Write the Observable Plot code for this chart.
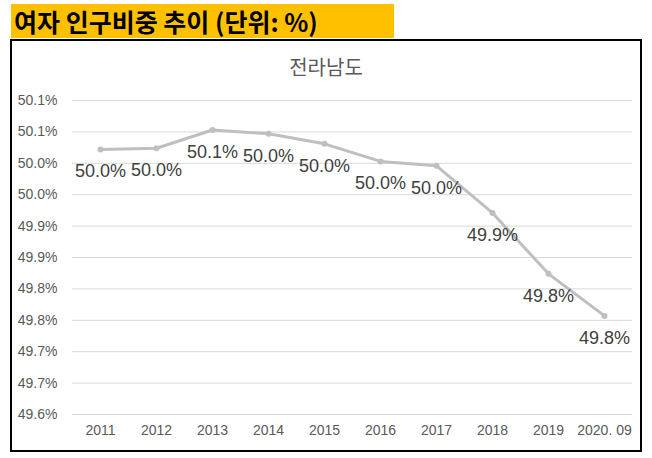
<!DOCTYPE html>
<html>
<head>
<meta charset="utf-8">
<script src="https://cdn.jsdelivr.net/npm/d3@7"></script>
<script src="https://cdn.jsdelivr.net/npm/@observablehq/plot@0.6"></script>
<style>
  html, body { margin: 0; padding: 0; background: #fff; }
  #wrap { position: relative; width: 652px; height: 458px; overflow: hidden; font-family: "Liberation Sans", Arial, sans-serif; }
  #header { position: absolute; left: 11px; top: 4px; width: 383px; height: 34px; background: #FFC000;
    font-family: "Noto Sans CJK KR", sans-serif; font-weight: bold; font-size: 25px; line-height: 34px;
    color: #000; padding-left: 3px; box-sizing: border-box; white-space: nowrap; }
  #box { position: absolute; left: 10px; top: 39px; width: 632px; height: 413px; border: 2px solid #000; box-sizing: border-box; }
  #ctitle { position: absolute; left: 0; width: 652px; top: 53px; text-align: center;
    font-family: "Noto Sans CJK KR", sans-serif; font-size: 20px; color: #595959; line-height: 28px; }
  #plot { position: absolute; left: 0; top: 0; }
</style>
</head>
<body>
<div id="wrap">
  <div id="header">여자 인구비중 추이 (단위: %)</div>
  <div id="box"></div>
  <div id="ctitle">전라남도</div>
  <div id="plot"></div>
</div>
<script>
const categories = ["2011", "2012", "2013", "2014", "2015", "2016", "2017", "2018", "2019", "2020. 09"];
const values = [50.022, 50.024, 50.053, 50.047, 50.031, 50.003, 49.996, 49.921, 49.824, 49.757];
const yTicks = [49.6, 49.65, 49.7, 49.75, 49.8, 49.85, 49.9, 49.95, 50.0, 50.05, 50.1];
const yTickLabels = ["49.6%", "49.7%", "49.7%", "49.8%", "49.8%", "49.9%", "49.9%", "50.0%", "50.0%", "50.1%", "50.1%"];

const data = categories.map((c, i) => ({year: c, value: values[i]}));

const chart = Plot.plot({
  width: 652,
  height: 458,
  marginLeft: 72,
  marginRight: 20,
  marginTop: 100,
  marginBottom: 44,
  style: { fontFamily: "'Liberation Sans', Arial, sans-serif", background: "transparent", overflow: "visible" },
  x: { type: "point", domain: categories, padding: 0.5, label: null },
  y: { domain: [49.6, 50.1], label: null },
  marks: [
    Plot.gridY(yTicks, { stroke: "#D9D9D9", strokeOpacity: 1, strokeWidth: 1 }),
    Plot.axisY(yTicks, { tickSize: 0, tickPadding: 15, fontSize: 14, fill: "#595959",
      tickFormat: (d, i) => yTickLabels[i], label: null }),
    Plot.axisX({ tickSize: 0, tickPadding: 11, fontSize: 14, fill: "#595959", label: null }),
    Plot.line(data, { x: "year", y: "value", stroke: "#BFBFBF", strokeWidth: 3, strokeLinejoin: "round", strokeLinecap: "round" }),
    Plot.dot(data, { x: "year", y: "value", r: 3, fill: "#BFBFBF", stroke: "none" }),
    Plot.text(data, { x: "year", y: "value", dy: 22, text: d => d.value.toFixed(1) + "%",
      fontSize: 18, fill: "#404040" })
  ]
});
document.getElementById("plot").appendChild(chart);
</script>
</body>
</html>
